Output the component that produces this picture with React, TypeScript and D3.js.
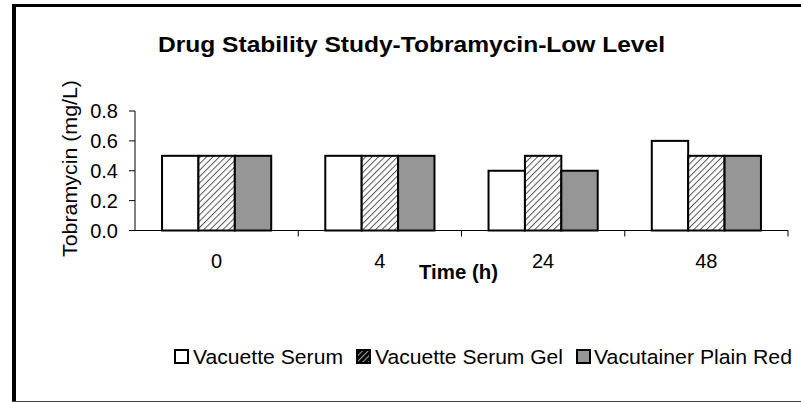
import React from "react";
import * as d3 from "d3";

const categories = ["0", "4", "24", "48"];
const seriesNames = ["Vacuette Serum", "Vacuette Serum Gel", "Vacutainer Plain Red"];
const vacuetteSerum = [0.5, 0.5, 0.4, 0.6];
const vacuetteSerumGel = [0.5, 0.5, 0.5, 0.5];
const vacutainerPlainRed = [0.5, 0.5, 0.4, 0.5];
const yTicks = [0, 0.2, 0.4, 0.6, 0.8];
const title = "Drug Stability Study-Tobramycin-Low Level";
const xTitle = "Time (h)";
const yTitle = "Tobramycin (mg/L)";

const seriesValues = [vacuetteSerum, vacuetteSerumGel, vacutainerPlainRed];
const fills = ["#ffffff", "url(#hatch)", "#969696"];
const legendFills = ["#ffffff", "url(#hatchSmall)", "#969696"];

const FONT = "Liberation Sans, Arial, sans-serif";

export default function App() {
  const W = 801;
  const H = 402;
  const x = d3.scaleBand<string>().domain(categories).range([135, 788]).paddingInner(0).paddingOuter(0);
  const xs = d3
    .scaleBand<number>()
    .domain([0, 1, 2])
    .range([0, x.step()])
    .paddingInner(0)
    .paddingOuter(0.743);
  const y = d3.scaleLinear().domain([0, 0.8]).range([230.5, 111]);

  const legendItems = [
    { mx: 174, tx: 193, tl: 150 },
    { mx: 356, tx: 375, tl: 188 },
    { mx: 576, tx: 594, tl: 198 },
  ];

  return (
    <div style={{ position: "absolute", left: 0, top: 0, width: W, height: H, background: "#fff" }}>
      <svg width={W} height={H} style={{ display: "block" }}>
        <defs>
          <pattern id="hatch" patternUnits="userSpaceOnUse" width="4.5" height="4.5" patternTransform="rotate(45)">
            <rect width="4.5" height="4.5" fill="#ffffff" />
            <line x1="0" y1="0" x2="0" y2="4.5" stroke="#555" strokeWidth="2" />
          </pattern>
          <pattern id="hatchSmall" patternUnits="userSpaceOnUse" width="4" height="4" patternTransform="rotate(45)">
            <rect width="4" height="4" fill="#000" />
            <line x1="0" y1="0" x2="0" y2="4" stroke="#fff" strokeWidth="1.3" />
          </pattern>
        </defs>
        <rect x={0} y={0} width={W} height={H} fill="#fff" />
        {/* outer frame */}
        <line x1={14} y1={5.5} x2={W} y2={5.5} stroke="#000" strokeWidth={3} />
        <line x1={14} y1={4} x2={14} y2={H} stroke="#000" strokeWidth={4} />
        <line x1={12} y1={401.5} x2={W} y2={401.5} stroke="#444" strokeWidth={1} />

        {/* title */}
        <text
          x={158}
          y={52}
          fontFamily={FONT}
          fontWeight="bold"
          fontSize={22}
          textLength={507}
          lengthAdjust="spacingAndGlyphs"
        >
          {title}
        </text>

        {/* y axis */}
        <line x1={135} y1={y(0.8)} x2={135} y2={y(0)} stroke="#000" strokeWidth={1} />
        {yTicks.map((t) => (
          <g key={t}>
            <line x1={129} y1={y(t)} x2={135} y2={y(t)} stroke="#000" strokeWidth={1} />
            <text
              x={118}
              y={y(t)}
              textAnchor="end"
              dominantBaseline="central"
              fontFamily={FONT}
              fontSize={20}
            >
              {t.toFixed(1)}
            </text>
          </g>
        ))}
        <text
          transform={`translate(77, ${(80 + 257) / 2}) rotate(-90)`}
          textAnchor="middle"
          fontFamily={FONT}
          fontSize={20.5}
          textLength={177}
          lengthAdjust="spacingAndGlyphs"
        >
          {yTitle}
        </text>

        {/* bars */}
        {categories.map((c, ci) =>
          seriesValues.map((vals, si) => {
            const bx = (x(c) as number) + (xs(si) as number);
            return (
              <rect
                key={c + "-" + si}
                x={bx}
                y={y(vals[ci])}
                width={xs.bandwidth()}
                height={y(0) - y(vals[ci])}
                fill={fills[si]}
                stroke="#000"
                strokeWidth={2}
              />
            );
          })
        )}

        {/* x axis */}
        <line x1={135} y1={y(0)} x2={788} y2={y(0)} stroke="#000" strokeWidth={1} />
        {categories.slice(1).map((c) => (
          <line key={"t" + c} x1={x(c) as number} y1={y(0)} x2={x(c) as number} y2={y(0) + 6} stroke="#000" strokeWidth={1} />
        ))}
        <line x1={788} y1={y(0)} x2={788} y2={y(0) + 6} stroke="#000" strokeWidth={1} />
        {categories.map((c) => (
          <text
            key={"l" + c}
            x={(x(c) as number) + x.bandwidth() / 2}
            y={268}
            textAnchor="middle"
            fontFamily={FONT}
            fontSize={20}
          >
            {c}
          </text>
        ))}
        <text
          x={458.5}
          y={279}
          textAnchor="middle"
          fontFamily={FONT}
          fontWeight="bold"
          fontSize={20}
          textLength={79}
          lengthAdjust="spacingAndGlyphs"
        >
          {xTitle}
        </text>

        {/* legend */}
        {seriesNames.map((n, i) => (
          <g key={n}>
            <rect
              x={legendItems[i].mx + 1}
              y={350}
              width={13}
              height={13}
              fill={legendFills[i]}
              stroke="#000"
              strokeWidth={2}
            />
            <text
              x={legendItems[i].tx}
              y={364}
              fontFamily={FONT}
              fontSize={20.5}
              textLength={legendItems[i].tl}
              lengthAdjust="spacingAndGlyphs"
            >
              {n}
            </text>
          </g>
        ))}
      </svg>
    </div>
  );
}
